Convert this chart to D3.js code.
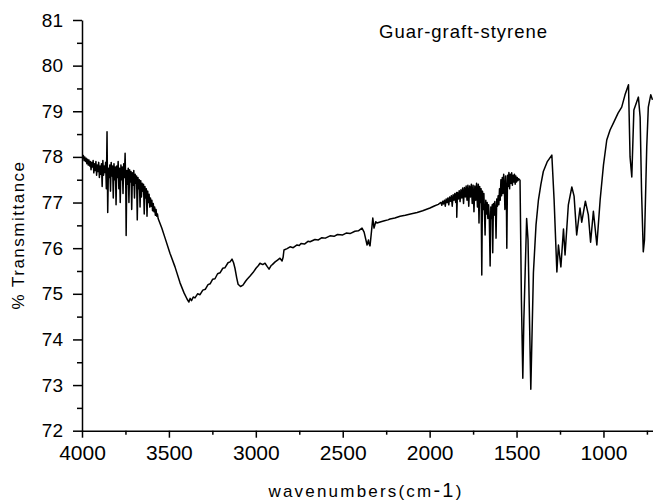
<!DOCTYPE html>
<html>
<head>
<meta charset="utf-8">
<script src="https://cdn.jsdelivr.net/npm/d3@7"></script>
<style>
  body { margin: 0; background: #fff; }
  text { font-family: "Liberation Sans", Arial, sans-serif; fill: #000; }
</style>
</head>
<body>
<svg width="653" height="501"></svg>
<script>
// spectrum, as [wavenumber (cm-1), % transmittance]
// noisy O-H / water vapour region
var highNoise = [
  [4000, 78.00], [3996, 77.97], [3992, 78.03], [3988, 77.92], [3984, 78.00], [3980, 77.90],
  [3976, 77.97], [3972, 77.85], [3968, 77.95], [3964, 77.82], [3960, 77.93], [3956, 77.80],
  [3952, 77.90], [3948, 77.72], [3944, 77.88], [3940, 77.78], [3936, 77.92], [3932, 77.65],
  [3928, 77.85], [3924, 77.70], [3920, 77.90], [3916, 77.60], [3912, 77.82], [3908, 77.68],
  [3904, 77.88], [3900, 77.55], [3896, 77.80], [3892, 77.62], [3888, 77.85], [3884, 77.35],
  [3880, 77.92], [3876, 77.60], [3872, 77.80], [3868, 77.66], [3864, 77.88], [3860, 77.30],
  [3856, 78.55], [3852, 76.78], [3848, 77.75], [3844, 77.55], [3840, 77.82], [3836, 77.25],
  [3832, 77.88], [3828, 77.58], [3824, 77.80], [3820, 77.10], [3816, 77.85], [3812, 77.50],
  [3808, 77.78], [3804, 76.95], [3800, 77.80], [3796, 77.55], [3792, 77.90], [3788, 77.30],
  [3784, 77.75], [3780, 77.00], [3776, 77.82], [3772, 77.50], [3768, 77.78], [3764, 77.20],
  [3760, 77.85], [3756, 77.55], [3752, 78.08], [3748, 77.30], [3746, 76.28], [3742, 77.70],
  [3738, 77.40], [3734, 77.75], [3730, 77.00], [3726, 77.72], [3722, 77.45], [3718, 77.68],
  [3714, 76.85], [3710, 77.65], [3706, 77.38], [3702, 77.70], [3698, 77.10], [3694, 77.62],
  [3690, 77.42], [3686, 77.58], [3682, 76.62], [3678, 77.55], [3674, 77.30], [3670, 77.50],
  [3666, 76.90], [3662, 77.48], [3658, 77.12], [3654, 77.42], [3650, 77.25], [3646, 77.40],
  [3642, 76.75], [3638, 77.35], [3634, 77.10], [3630, 77.30], [3626, 76.70], [3622, 77.25],
  [3618, 77.00], [3614, 77.18], [3610, 76.90], [3606, 77.10], [3602, 76.92], [3598, 77.05],
  [3594, 76.82], [3590, 76.98], [3586, 76.80], [3582, 76.90], [3578, 76.72], [3574, 76.85],
  [3570, 76.70], [3566, 76.75], [3562, 76.65]
];

// broad O-H band down to C-H stretches and the CO2 doublet
var broadBand = [
  [3541, 76.44], [3522, 76.22], [3494, 75.89], [3465, 75.59], [3436, 75.24], [3413, 75.02],
  [3395, 74.88], [3385, 74.82], [3378, 74.90], [3370, 74.85], [3360, 74.93], [3350, 74.91],
  [3335, 75.00], [3321, 74.98], [3305, 75.08], [3290, 75.10], [3275, 75.20], [3263, 75.22],
  [3248, 75.32], [3235, 75.33], [3220, 75.44], [3206, 75.46], [3190, 75.56], [3178, 75.57],
  [3160, 75.68], [3148, 75.70], [3137, 75.76], [3128, 75.68], [3120, 75.56], [3110, 75.35],
  [3102, 75.21], [3088, 75.16], [3074, 75.19], [3060, 75.27], [3050, 75.32], [3033, 75.39],
  [3015, 75.47], [2999, 75.56], [2985, 75.62], [2976, 75.67], [2960, 75.64], [2947, 75.67],
  [2935, 75.60], [2924, 75.54], [2912, 75.62], [2905, 75.64], [2889, 75.70], [2875, 75.74],
  [2861, 75.78], [2849, 75.72], [2843, 75.80], [2838, 75.96], [2820, 75.99], [2803, 76.03],
  [2785, 76.01], [2763, 76.07], [2750, 76.06], [2740, 76.10], [2720, 76.09], [2700, 76.15],
  [2688, 76.14], [2660, 76.19], [2640, 76.18], [2620, 76.23], [2600, 76.22], [2573, 76.27],
  [2550, 76.26], [2530, 76.30], [2500, 76.29], [2480, 76.33], [2458, 76.32], [2430, 76.37],
  [2410, 76.38], [2389, 76.44], [2377, 76.35], [2360, 76.07], [2352, 76.18], [2349, 76.10],
  [2343, 76.05], [2335, 76.35], [2327, 76.66], [2320, 76.44], [2310, 76.58], [2303, 76.55],
  [2280, 76.58], [2260, 76.60], [2240, 76.62], [2228, 76.64], [2200, 76.66], [2170, 76.70],
  [2140, 76.72], [2110, 76.75], [2072, 76.78], [2040, 76.82], [1998, 76.88], [1970, 76.93],
  [1950, 76.96], [1940, 76.99]
];

// ring and C=C overtones with water vapour lines
var midNoise = [
  [1935, 77.00], [1930, 76.94], [1925, 77.03], [1920, 76.97], [1915, 77.05], [1910, 76.92],
  [1905, 77.08], [1900, 77.00], [1895, 77.10], [1890, 76.95], [1885, 77.12], [1880, 77.03],
  [1875, 77.15], [1870, 76.92], [1865, 77.17], [1860, 77.05], [1855, 77.20], [1850, 77.00],
  [1845, 77.22], [1844, 76.68], [1840, 77.22], [1835, 77.08], [1830, 77.26], [1825, 77.02],
  [1820, 77.28], [1815, 77.10], [1810, 77.32], [1805, 76.98], [1800, 77.33], [1795, 77.12],
  [1790, 77.36], [1785, 77.05], [1780, 77.38], [1775, 76.92], [1770, 77.36], [1765, 77.12],
  [1760, 77.40], [1755, 76.98], [1750, 77.38], [1745, 76.80], [1740, 77.36], [1735, 77.05],
  [1730, 77.42], [1725, 76.90], [1720, 77.40], [1716, 76.55], [1712, 77.35], [1708, 77.00],
  [1704, 77.30], [1700, 75.41], [1696, 77.25], [1692, 76.85], [1688, 77.20], [1684, 76.70],
  [1681, 76.29], [1677, 77.05], [1673, 76.75], [1669, 77.00], [1665, 76.65], [1661, 76.95],
  [1657, 76.70], [1652, 75.61], [1648, 76.90], [1644, 76.65], [1640, 76.95], [1637, 75.90],
  [1633, 76.98], [1629, 76.72], [1625, 77.02], [1621, 76.80], [1618, 76.22], [1614, 77.08],
  [1610, 76.92], [1606, 77.15], [1602, 76.95], [1598, 77.30], [1594, 77.05], [1590, 77.50],
  [1586, 77.15], [1582, 77.55], [1578, 77.20], [1574, 77.62], [1570, 77.30], [1567, 76.85],
  [1563, 77.58], [1559, 77.25], [1556, 76.00], [1552, 77.60], [1548, 77.35], [1544, 77.66],
  [1540, 77.30], [1536, 77.62], [1532, 77.42], [1528, 77.65], [1524, 77.38], [1520, 77.60],
  [1516, 77.45], [1512, 77.62], [1508, 77.40], [1504, 77.58], [1500, 77.45], [1496, 77.55],
  [1492, 77.48], [1488, 77.52]
];

// fingerprint region
var fingerprint = [
  [1480, 77.49], [1472, 74.86], [1464, 73.15], [1458, 74.43], [1442, 76.65], [1434, 76.18],
  [1418, 72.91], [1403, 75.46], [1388, 76.51], [1374, 77.06], [1360, 77.40], [1346, 77.68],
  [1324, 77.89], [1297, 78.04], [1284, 77.06], [1268, 75.48], [1259, 76.07], [1245, 75.59],
  [1230, 76.42], [1221, 75.85], [1202, 76.95], [1182, 77.34], [1169, 77.14], [1154, 76.29],
  [1135, 76.88], [1125, 76.57], [1104, 77.03], [1087, 76.73], [1074, 76.13], [1058, 76.81],
  [1038, 76.07], [1019, 77.06], [1000, 77.82], [981, 78.37], [962, 78.59], [943, 78.74],
  [916, 78.96], [895, 79.09], [876, 79.36], [856, 79.58], [847, 78.00], [837, 77.56],
  [825, 79.03], [799, 79.31], [789, 78.87], [781, 77.27], [771, 75.92], [764, 76.18],
  [751, 78.22], [742, 79.09], [728, 79.36], [718, 79.25]
];

var xTicks = [4000, 3500, 3000, 2500, 2000, 1500, 1000];
var yTicks = [72, 73, 74, 75, 76, 77, 78, 79, 80, 81];

var svg = d3.select("svg"),
    plotLeft = 82, plotRight = 653, plotTop = 20, plotBottom = 430.7;

var x = d3.scaleLinear().domain([4000, 715]).range([plotLeft, plotRight]);
var y = d3.scaleLinear().domain([72, 81]).range([plotBottom, plotTop]);

var spectrum = highNoise.concat(broadBand, midNoise, fingerprint);

// minor ticks
var xMinor = d3.range(3750, 700, -500);
var yMinor = d3.range(72.5, 81, 1);

svg.append("g")
    .attr("transform", "translate(0," + plotBottom + ")")
    .call(d3.axisBottom(x).tickValues(xMinor).tickSize(4).tickFormat(""))
    .call(function (g) { g.select(".domain").remove(); });

svg.append("g")
    .attr("transform", "translate(" + plotLeft + ",0)")
    .call(d3.axisLeft(y).tickValues(yMinor).tickSize(5).tickFormat(""))
    .call(function (g) { g.select(".domain").remove(); });

var xAxis = svg.append("g")
    .attr("transform", "translate(0," + plotBottom + ")")
    .call(d3.axisBottom(x).tickValues(xTicks).tickSize(7).tickSizeOuter(0).tickFormat(d3.format("d")));

xAxis.selectAll("text")
    .attr("y", 14)
    .attr("font-size", 21)
    .style("font-family", "'Liberation Sans', Arial, sans-serif");

var yAxis = svg.append("g")
    .attr("transform", "translate(" + plotLeft + ",0)")
    .call(d3.axisLeft(y).tickValues(yTicks).tickSize(9).tickSizeOuter(0).tickFormat(d3.format("d")));

yAxis.selectAll("text")
    .attr("x", -19)
    .attr("font-size", 19)
    .style("font-family", "'Liberation Sans', Arial, sans-serif");

svg.selectAll(".domain, .tick line").attr("stroke", "#000").attr("stroke-width", 1.5);

var line = d3.line()
    .x(function (d) { return x(d[0]); })
    .y(function (d) { return y(d[1]); });

svg.append("path")
    .datum(spectrum)
    .attr("fill", "none")
    .attr("stroke", "#000")
    .attr("stroke-width", 1.5)
    .attr("stroke-linejoin", "round")
    .attr("d", line);

// labels
svg.append("text")
    .attr("x", 379)
    .attr("y", 38)
    .attr("font-size", 18.5)
    .attr("letter-spacing", 1)
    .text("Guar-graft-styrene");

svg.append("text")
    .attr("transform", "translate(24,235) rotate(-90)")
    .attr("text-anchor", "middle")
    .attr("font-size", 17)
    .attr("letter-spacing", 1.5)
    .text("% Transmittance");

var xl = svg.append("text")
    .attr("x", 366)
    .attr("y", 497)
    .attr("text-anchor", "middle")
    .attr("font-size", 17)
    .attr("letter-spacing", 2.2);
xl.append("tspan").text("wavenumbers(cm");
xl.append("tspan").attr("font-size", 20).text("-1");
xl.append("tspan").text(")");
</script>
</body>
</html>
